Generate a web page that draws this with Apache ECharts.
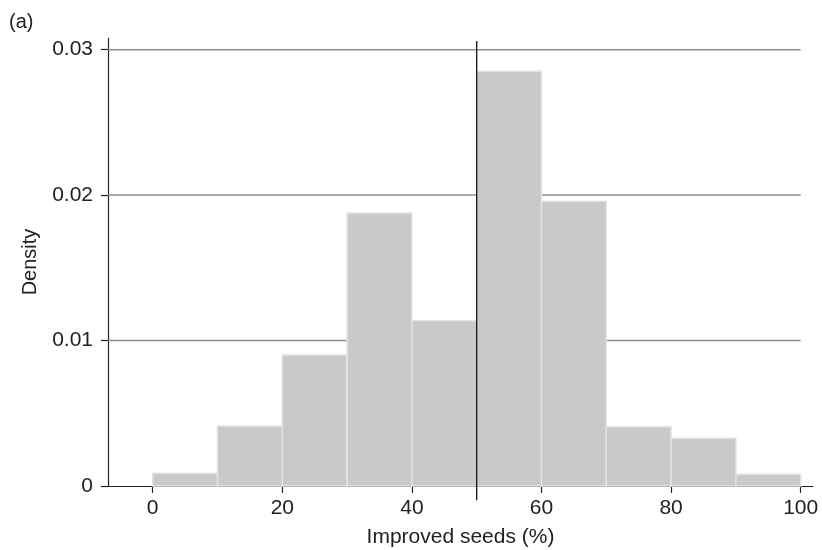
<!DOCTYPE html>
<html>
<head>
<meta charset="utf-8">
<script src="https://cdn.jsdelivr.net/npm/echarts@6/dist/echarts.min.js"></script>
<style>
html,body{margin:0;padding:0;background:#fff;}
#chart{width:822px;height:550px;}
</style>
</head>
<body>
<div id="chart"></div>
<script>
// Data
const binStarts = [0, 10, 20, 30, 40, 50, 60, 70, 80, 90];
const binWidth = 10;
const density = [0.00087, 0.00413, 0.00901, 0.01877, 0.01136, 0.02851, 0.01957, 0.00408, 0.00328, 0.00081];
const xTicks = [0, 20, 40, 60, 80, 100];
const yTicks = [0, 0.01, 0.02, 0.03];
const yGridValues = [0.01, 0.02, 0.03];
const refLineX = 50;

const xMin = -6.9, xMax = 101.9, yMin = 0, yMax = 0.0308;
const font = '"Liberation Sans", Arial, Helvetica, sans-serif';

const histData = binStarts.map((s, i) => [s, s + binWidth, density[i]]);

const chart = echarts.init(document.getElementById('chart'), null, {renderer: 'canvas'});
chart.setOption({
  animation: false,
  backgroundColor: '#ffffff',
  title: {
    text: '(a)', left: 4, top: 7,
    textStyle: {fontFamily: font, fontSize: 20, fontWeight: 'normal', color: '#222'}
  },
  grid: {left: 108, right: 9, top: 38, bottom: 64, containLabel: false, outerBoundsMode: 'none'},
  xAxis: {
    type: 'value', min: xMin, max: xMax,
    name: 'Improved seeds (%)', nameLocation: 'middle', nameGap: 41,
    nameTextStyle: {fontFamily: font, fontSize: 21, color: '#222'},
    axisLine: {show: true, onZero: false, lineStyle: {color: '#222', width: 1.2}},
    axisTick: {show: true, inside: false, length: 7, customValues: xTicks, lineStyle: {color: '#222', width: 1.2}},
    axisLabel: {customValues: xTicks, margin: 12, fontFamily: font, fontSize: 21, color: '#222'},
    splitLine: {show: false}
  },
  yAxis: {
    type: 'value', min: yMin, max: yMax,
    name: 'Density', nameLocation: 'middle', nameGap: 68,
    nameTextStyle: {fontFamily: font, fontSize: 20, color: '#222'},
    axisLine: {show: true, onZero: false, lineStyle: {color: '#222', width: 1.2}},
    axisTick: {show: true, inside: false, length: 7, customValues: yTicks, lineStyle: {color: '#222', width: 1.2}},
    axisLabel: {customValues: yTicks, margin: 15, fontFamily: font, fontSize: 21, color: '#222',
      formatter: v => (v === 0 ? '0' : v.toFixed(2))},
    splitLine: {show: false}
  },
  series: [
    {
      type: 'custom', z: 1, silent: true,
      data: yGridValues.map(v => [v]),
      encode: {y: 0},
      renderItem: (params, api) => {
        const v = api.value(0);
        const a = api.coord([xMin, v]);
        const b = api.coord([xTicks[xTicks.length - 1], v]);
        return {type: 'line', shape: {x1: a[0], y1: a[1], x2: b[0], y2: b[1]},
          style: {stroke: '#8e8e8e', lineWidth: 1.5}};
      }
    },
    {
      type: 'custom', z: 2, silent: true,
      data: histData,
      encode: {x: [0, 1], y: 2},
      renderItem: (params, api) => {
        const p0 = api.coord([api.value(0), api.value(2)]);
        const p1 = api.coord([api.value(1), 0]);
        return {type: 'rect',
          shape: {x: p0[0], y: p0[1], width: p1[0] - p0[0], height: p1[1] - p0[1]},
          style: {fill: '#c8c9cb', stroke: '#e2e3e4', lineWidth: 1.5}};
      }
    },
    {
      type: 'line', z: 3, silent: true, clip: false,
      symbol: 'none',
      data: [[refLineX, -0.00098], [refLineX, 0.0306]],
      lineStyle: {color: '#111', width: 1.3}
    }
  ]
});
</script>
</body>
</html>
